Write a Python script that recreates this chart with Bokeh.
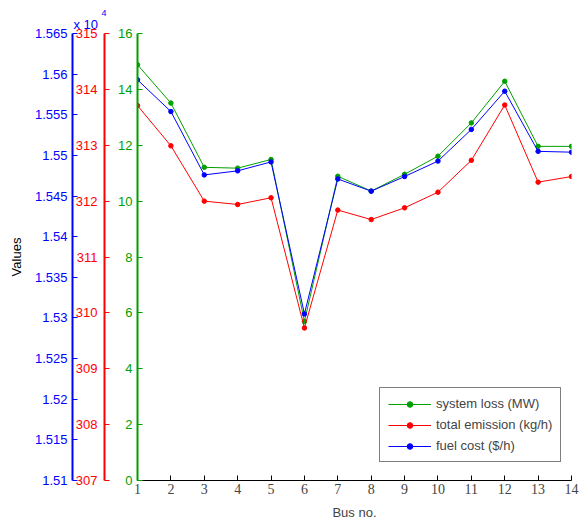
from bokeh.plotting import figure
from bokeh.models import (Range1d, LinearAxis, FixedTicker, CustomJSTickFormatter,
                          Legend, LegendItem, Title)
from bokeh.embed import file_html
from bokeh.resources import INLINE

# ---- data ----
bus = list(range(1, 15))
system_loss = [14.88, 13.51, 11.21, 11.18, 11.49, 5.69, 10.89, 10.36, 10.96, 11.61, 12.80, 14.29, 11.96, 11.96]
total_emission = [313.71, 312.99, 312.00, 311.94, 312.06, 309.73, 311.84, 311.67, 311.88, 312.16, 312.73, 313.72, 312.34, 312.44]
fuel_cost = [15593, 15554, 15476, 15481, 15492, 15305, 15471, 15456, 15474, 15493, 15532, 15579, 15505, 15504]

green_ticks = [0, 2, 4, 6, 8, 10, 12, 14, 16]
red_ticks = [307, 308, 309, 310, 311, 312, 313, 314, 315]
blue_ticks = [15100, 15150, 15200, 15250, 15300, 15350, 15400, 15450, 15500, 15550, 15600, 15650]

GREEN = "#00a000"
RED = "#ff0000"
BLUE = "#0000ff"
FONT = "Liberation Sans"

p = figure(width=588, height=522, x_range=Range1d(1, 14), y_range=Range1d(0, 16),
           output_backend="svg", toolbar_location=None,
           min_border_left=137, min_border_top=33, min_border_right=17, min_border_bottom=0)
p.extra_y_ranges = {"red": Range1d(307, 315), "blue": Range1d(15100, 15650)}
p.grid.visible = False
p.outline_line_color = None
p.background_fill_color = "white"
p.border_fill_color = "white"

# x axis
xa = p.xaxis[0]
xa.ticker = FixedTicker(ticks=bus)
xa.axis_label = "Bus no."
xa.axis_label_text_font = FONT
xa.axis_label_text_font_size = "13px"
xa.axis_label_text_font_style = "normal"
xa.axis_label_standoff = 8
xa.major_label_text_font = "Liberation Serif"
xa.major_label_text_font_size = "14px"
xa.major_label_standoff = 3
xa.major_tick_in = 5
xa.major_tick_out = 0
xa.minor_tick_line_color = None
xa.axis_line_color = "black"
xa.major_tick_line_color = "black"


def style_y(ax, color, standoff=5):
    ax.major_tick_in = 5
    ax.major_tick_out = 0
    ax.minor_tick_line_color = None
    ax.axis_line_color = color
    ax.axis_line_width = 2
    ax.major_tick_line_color = color
    ax.major_label_text_color = color
    ax.major_label_text_font = FONT
    ax.major_label_text_font_size = "13px"
    ax.major_label_standoff = standoff


# green (innermost) axis; a blank axis label pads the panel
ga = p.yaxis[0]
ga.ticker = FixedTicker(ticks=green_ticks)
style_y(ga, GREEN, standoff=5)
ga.axis_label = " "
ga.axis_label_text_font_size = "4px"
ga.axis_label_standoff = 3

# red axis
ra = LinearAxis(y_range_name="red", ticker=FixedTicker(ticks=red_ticks))
style_y(ra, RED, standoff=7)
p.add_layout(ra, "left")

# blue axis (outermost)
ba = LinearAxis(y_range_name="blue", ticker=FixedTicker(ticks=blue_ticks))
ba.formatter = CustomJSTickFormatter(code="return String(parseFloat((tick/1e4).toFixed(4)));")
style_y(ba, BLUE, standoff=5)
ba.axis_label = "Values"
ba.axis_label_text_font = FONT
ba.axis_label_text_font_size = "13px"
ba.axis_label_text_font_style = "normal"
ba.axis_label_standoff = 8
ba.axis_label_text_color = "black"
p.add_layout(ba, "left")

# series
lg = p.line(bus, system_loss, color=GREEN, line_width=1)
sg = p.scatter(bus, system_loss, color=GREEN, size=4.5)
lr = p.line(bus, total_emission, color=RED, line_width=1, y_range_name="red")
sr = p.scatter(bus, total_emission, color=RED, size=4.5, y_range_name="red")
lb = p.line(bus, fuel_cost, color=BLUE, line_width=1, y_range_name="blue")
sb = p.scatter(bus, fuel_cost, color=BLUE, size=4.5, y_range_name="blue")

legend = Legend(items=[
    LegendItem(label="system loss (MW)", renderers=[lg, sg]),
    LegendItem(label="total emission (kg/h)", renderers=[lr, sr]),
    LegendItem(label="fuel cost ($/h)", renderers=[lb, sb]),
], location=(242, 18))
legend.label_text_font = FONT
legend.label_text_font_size = "13px"
legend.glyph_width = 43
legend.glyph_height = 14
legend.label_standoff = 5
legend.spacing = 6
legend.padding = 8
legend.margin = 0
legend.border_line_color = "black"
legend.border_line_width = 1
legend.background_fill_alpha = 1
legend.label_height = 14
p.add_layout(legend, "center")

# "x 10^4" multiplier above the blue axis
t1 = Title(text="x 10", text_color=BLUE, text_font=FONT, text_font_size="13px",
           text_font_style="normal", align="left", offset=-64, standoff=3)
t2 = Title(text="4", text_color=BLUE, text_font=FONT, text_font_size="9px",
           text_font_style="normal", align="left", offset=-36, standoff=-5)
p.add_layout(t1, "above")
p.add_layout(t2, "above")

open("out.html", "w").write(file_html(p, INLINE))
